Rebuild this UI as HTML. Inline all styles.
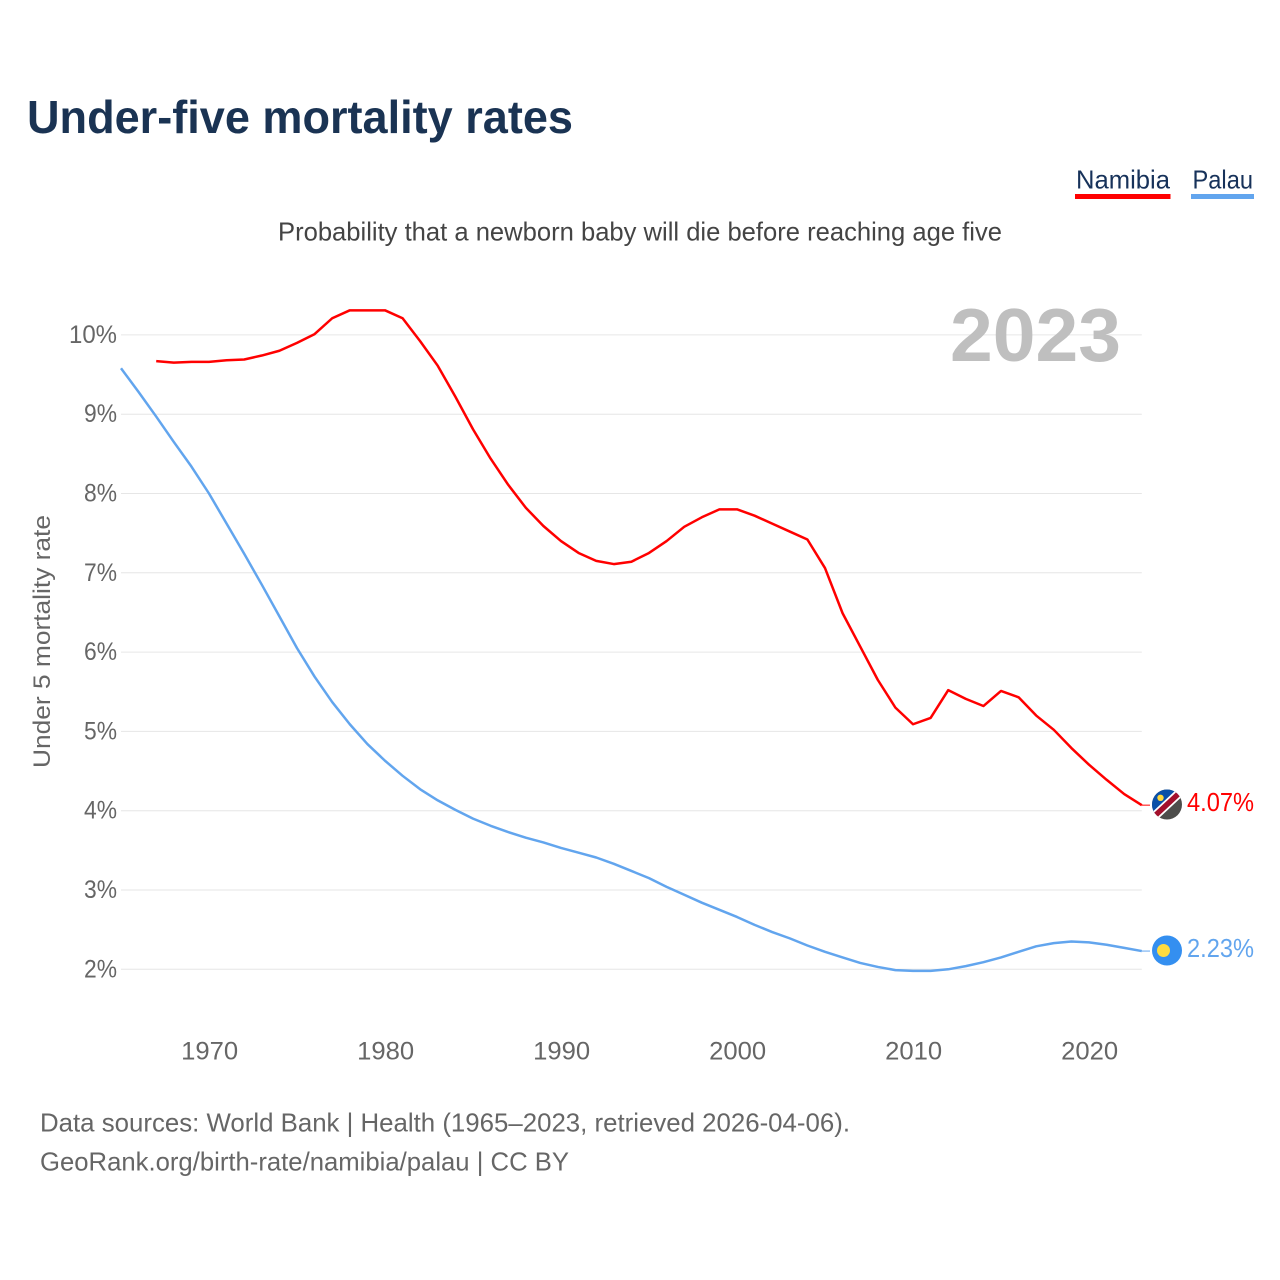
<!DOCTYPE html>
<html lang="en">
<head>
<meta charset="utf-8">
<title>Under-five mortality rates</title>
<style>
html,body{margin:0;padding:0;background:#fff;}
svg{display:block;font-family:"Liberation Sans",sans-serif;}
</style>
</head>
<body>
<svg id="chart" xmlns="http://www.w3.org/2000/svg" width="1280" height="1280" viewBox="0 0 1280 1280">
  <defs>
    <clipPath id="namibia-clip"><circle cx="1167" cy="804.5" r="15"/></clipPath>
    <clipPath id="palau-clip"><circle cx="1167" cy="950.5" r="15"/></clipPath>
  </defs>
  <rect width="1280" height="1280" fill="#ffffff"/>
  <text x="27" y="133" font-size="46" font-weight="700" fill="#1a3353" textLength="546" lengthAdjust="spacingAndGlyphs">Under-five mortality rates</text>
  <text x="278" y="240.5" font-size="26" fill="#444444" textLength="724" lengthAdjust="spacingAndGlyphs">Probability that a newborn baby will die before reaching age five</text>
  <g>
    <g>
      <text x="1076" y="188.5" font-size="26" fill="#17325a" textLength="94" lengthAdjust="spacingAndGlyphs">Namibia</text>
      <rect x="1075" y="194" width="95.5" height="5" fill="#ff0000"/>
    </g>
    <g>
      <text x="1192.5" y="188.5" font-size="26" fill="#17325a" textLength="60.5" lengthAdjust="spacingAndGlyphs">Palau</text>
      <rect x="1191" y="194" width="63" height="5" fill="#62a5ee"/>
    </g>
  </g>
  <g id="grid"></g>
  <g id="y-axis"></g>
  <g id="x-axis"></g>
  <text transform="translate(50 641.5) rotate(-90)" text-anchor="middle" font-size="24.5" fill="#666666" textLength="253" lengthAdjust="spacingAndGlyphs">Under 5 mortality rate</text>
  <text x="950" y="361" font-size="75" font-weight="700" fill="#bfbfbf" textLength="171" lengthAdjust="spacingAndGlyphs">2023</text>
  <g id="series"></g>
  <g>
    <g clip-path="url(#namibia-clip)">
      <rect x="1150" y="788" width="34" height="34" fill="#4d4d4b"/>
      <polygon points="1150,821 1150,788 1184,788" fill="#0a50a8"/>
      <g transform="rotate(-43 1167 804.5)">
        <rect x="1145" y="800" width="44" height="9" fill="#ffffff"/>
        <rect x="1145" y="801.8" width="44" height="5.4" fill="#a3102c"/>
      </g>
      <circle cx="1160.5" cy="797.8" r="3.2" fill="#ffd83c"/>
    </g>
  </g>
  <g>
    <circle cx="1167" cy="950.5" r="15" fill="#348ff0"/>
    <circle cx="1163.5" cy="950.5" r="6.5" fill="#ffdc3f"/>
  </g>
  <text x="40" y="1131.5" font-size="26" fill="#666666" textLength="810" lengthAdjust="spacingAndGlyphs">Data sources: World Bank | Health (1965–2023, retrieved 2026-04-06).</text>
  <text x="40" y="1170.5" font-size="26" fill="#666666" textLength="529" lengthAdjust="spacingAndGlyphs">GeoRank.org/birth-rate/namibia/palau | CC BY</text>
</svg>
<script>
const yearsPalau = [1965,1966,1967,1968,1969,1970,1971,1972,1973,1974,1975,1976,1977,1978,1979,1980,1981,1982,1983,1984,1985,1986,1987,1988,1989,1990,1991,1992,1993,1994,1995,1996,1997,1998,1999,2000,2001,2002,2003,2004,2005,2006,2007,2008,2009,2010,2011,2012,2013,2014,2015,2016,2017,2018,2019,2020,2021,2022,2023];
const valuesPalau = [9.58,9.28,8.97,8.65,8.34,8.00,7.62,7.24,6.85,6.45,6.05,5.69,5.37,5.09,4.84,4.63,4.44,4.27,4.13,4.01,3.90,3.81,3.73,3.66,3.60,3.53,3.47,3.41,3.33,3.24,3.15,3.04,2.94,2.84,2.75,2.66,2.56,2.47,2.39,2.30,2.22,2.15,2.08,2.03,1.99,1.98,1.98,2.00,2.04,2.09,2.15,2.22,2.29,2.33,2.35,2.34,2.31,2.27,2.23];
const yearsNamibia = [1967,1968,1969,1970,1971,1972,1973,1974,1975,1976,1977,1978,1979,1980,1981,1982,1983,1984,1985,1986,1987,1988,1989,1990,1991,1992,1993,1994,1995,1996,1997,1998,1999,2000,2001,2002,2003,2004,2005,2006,2007,2008,2009,2010,2011,2012,2013,2014,2015,2016,2017,2018,2019,2020,2021,2022,2023];
const valuesNamibia = [9.67,9.65,9.66,9.66,9.68,9.69,9.74,9.80,9.90,10.01,10.21,10.31,10.31,10.31,10.21,9.92,9.61,9.22,8.81,8.44,8.11,7.82,7.59,7.40,7.25,7.15,7.11,7.14,7.25,7.40,7.58,7.70,7.80,7.80,7.72,7.62,7.52,7.42,7.06,6.49,6.07,5.65,5.30,5.09,5.17,5.52,5.41,5.32,5.51,5.43,5.20,5.02,4.79,4.58,4.39,4.21,4.07];
const yTicks = [2,3,4,5,6,7,8,9,10];
const xTicks = [1970,1980,1990,2000,2010,2020];

const SVG_NS = 'http://www.w3.org/2000/svg';
const xScale = function (year) { return 121.0 + (year - 1965) * 17.6; };
const yScale = function (value) { return 969.3 - (value - 2) * 79.3; };
const gridGroup = document.getElementById('grid');
const yAxisGroup = document.getElementById('y-axis');
const xAxisGroup = document.getElementById('x-axis');
const seriesGroup = document.getElementById('series');

yTicks.forEach(function (tick) {
  const line = document.createElementNS(SVG_NS, 'line');
  
  
  line.setAttribute('x1', xScale(1965));
  line.setAttribute('x2', xScale(2023));
  line.setAttribute('y1', yScale(tick));
  line.setAttribute('y2', yScale(tick));
  line.setAttribute('stroke', '#e6e6e6');
  line.setAttribute('stroke-width', '1');
  gridGroup.appendChild(line);

  const label = document.createElementNS(SVG_NS, 'text');
  
  
  const textValue = tick + '%';
  label.textContent = textValue;
  label.setAttribute('x', 117);
  label.setAttribute('y', yScale(tick) + 8);
  label.setAttribute('text-anchor', 'end');
  label.setAttribute('font-size', '25');
  label.setAttribute('fill', '#666666');
  label.setAttribute('textLength', textValue.length === 3 ? 48 : 33);
  label.setAttribute('lengthAdjust', 'spacingAndGlyphs');
  yAxisGroup.appendChild(label);
});

xTicks.forEach(function (tick) {
  const label = document.createElementNS(SVG_NS, 'text');
  
  
  label.textContent = String(tick);
  label.setAttribute('x', xScale(tick) + 0.7);
  label.setAttribute('y', 1059.5);
  label.setAttribute('text-anchor', 'middle');
  label.setAttribute('font-size', '25');
  label.setAttribute('fill', '#666666');
  label.setAttribute('textLength', 57);
  label.setAttribute('lengthAdjust', 'spacingAndGlyphs');
  xAxisGroup.appendChild(label);
});

function toPoints(years, values) {
  return years.map(function (year, i) {
    return xScale(year).toFixed(2) + ',' + yScale(values[i]).toFixed(2);
  }).join(' ');
}

const palauLine = document.createElementNS(SVG_NS, 'polyline');


palauLine.setAttribute('points', toPoints(yearsPalau, valuesPalau));
palauLine.setAttribute('fill', 'none');
palauLine.setAttribute('stroke', '#62a5ee');
palauLine.setAttribute('stroke-width', '2.5');
palauLine.setAttribute('stroke-linejoin', 'round');
seriesGroup.appendChild(palauLine);

const namibiaLine = document.createElementNS(SVG_NS, 'polyline');


namibiaLine.setAttribute('points', toPoints(yearsNamibia, valuesNamibia));
namibiaLine.setAttribute('fill', 'none');
namibiaLine.setAttribute('stroke', '#ff0000');
namibiaLine.setAttribute('stroke-width', '2.5');
namibiaLine.setAttribute('stroke-linejoin', 'round');
seriesGroup.appendChild(namibiaLine);

const palauLast = valuesPalau[valuesPalau.length - 1];
const namibiaLast = valuesNamibia[valuesNamibia.length - 1];

const palauStub = document.createElementNS(SVG_NS, 'line');


palauStub.setAttribute('x1', xScale(2023));
palauStub.setAttribute('x2', 1150);
palauStub.setAttribute('y1', yScale(palauLast));
palauStub.setAttribute('y2', yScale(palauLast));
palauStub.setAttribute('stroke', '#62a5ee');
palauStub.setAttribute('stroke-width', '1');
seriesGroup.appendChild(palauStub);

const namibiaStub = document.createElementNS(SVG_NS, 'line');


namibiaStub.setAttribute('x1', xScale(2023));
namibiaStub.setAttribute('x2', 1150);
namibiaStub.setAttribute('y1', yScale(namibiaLast));
namibiaStub.setAttribute('y2', yScale(namibiaLast));
namibiaStub.setAttribute('stroke', '#ff0000');
namibiaStub.setAttribute('stroke-width', '1');
seriesGroup.appendChild(namibiaStub);

const namibiaValue = document.createElementNS(SVG_NS, 'text');


namibiaValue.textContent = namibiaLast.toFixed(2) + '%';
namibiaValue.setAttribute('x', 1187);
namibiaValue.setAttribute('y', yScale(namibiaLast) + 6);
namibiaValue.setAttribute('font-size', '26');
namibiaValue.setAttribute('fill', '#ff0000');
namibiaValue.setAttribute('textLength', 67);
namibiaValue.setAttribute('lengthAdjust', 'spacingAndGlyphs');
seriesGroup.appendChild(namibiaValue);

const palauValue = document.createElementNS(SVG_NS, 'text');


palauValue.textContent = palauLast.toFixed(2) + '%';
palauValue.setAttribute('x', 1187);
palauValue.setAttribute('y', yScale(palauLast) + 6);
palauValue.setAttribute('font-size', '26');
palauValue.setAttribute('fill', '#62a5ee');
palauValue.setAttribute('textLength', 67);
palauValue.setAttribute('lengthAdjust', 'spacingAndGlyphs');
seriesGroup.appendChild(palauValue);
</script>
</body>
</html>
